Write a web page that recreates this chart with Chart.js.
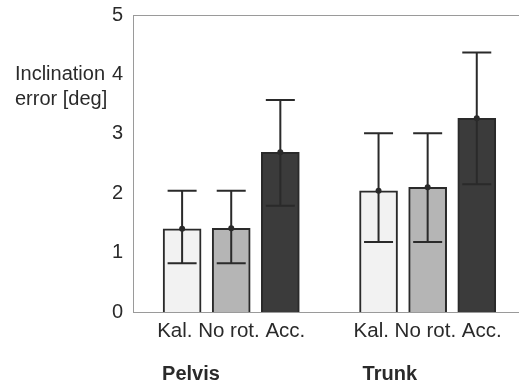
<!DOCTYPE html>
<html>
<head>
<meta charset="utf-8">
<script src="https://cdn.jsdelivr.net/npm/chart.js@4"></script>
<style>
  html, body { margin: 0; padding: 0; background: #fff; overflow: hidden; }
  #wrap { width: 519px; height: 383px; }
</style>
</head>
<body>
<div id="wrap"><canvas id="chart" width="519" height="383"></canvas></div>
<script>
// Bar labels and groups
const conditions = ['Kal.', 'No rot.', 'Acc.'];
const slots = [1, 2, 3, 5, 6, 7];
const groups = ['Pelvis', 'Trunk'];
const groupCenters = [2, 6];
const groupSlots = [1.18, 5.23];

// Mean inclination error and error bar limits [deg]
const meanError = [1.40, 1.41, 2.69, 2.04, 2.10, 3.26];
const errLow = [0.82, 0.82, 1.79, 1.18, 1.18, 2.15];
const errHigh = [2.04, 2.04, 3.57, 3.01, 3.01, 4.37];

const fills = ['#f2f2f2', '#b5b5b5', '#3b3b3b', '#f2f2f2', '#b5b5b5', '#3b3b3b'];
const yTitle = ['Inclination', 'error [deg]'];

const FONT = 'Liberation Sans, Arial, sans-serif';
const INK = '#2a2a2a';
const AXIS = '#9a9a9a';

// Error bars + frame + horizontal y title
const extras = {
    id: 'extras',
    afterDatasetsDraw(chart) {
        const { ctx, chartArea, scales } = chart;
        const x = scales.x, y = scales.y;
        ctx.save();
        ctx.strokeStyle = INK;
        ctx.fillStyle = INK;
        ctx.lineWidth = 2;
        slots.forEach((s, i) => {
            const px = x.getPixelForValue(s);
            const top = y.getPixelForValue(errHigh[i]);
            const bot = y.getPixelForValue(errLow[i]);
            ctx.beginPath();
            ctx.moveTo(px, top); ctx.lineTo(px, bot);
            ctx.moveTo(px - 14.5, top); ctx.lineTo(px + 14.5, top);
            ctx.moveTo(px - 14.5, bot); ctx.lineTo(px + 14.5, bot);
            ctx.stroke();
            ctx.beginPath();
            ctx.arc(px, y.getPixelForValue(meanError[i]), 3, 0, Math.PI * 2);
            ctx.fill();
        });
        // top frame line
        ctx.strokeStyle = AXIS;
        ctx.lineWidth = 1;
        ctx.beginPath();
        ctx.moveTo(chartArea.left, chartArea.top + 0.5);
        ctx.lineTo(chartArea.right, chartArea.top + 0.5);
        ctx.stroke();
        // y title, horizontal
        ctx.fillStyle = INK;
        ctx.font = '20px ' + FONT;
        ctx.textAlign = 'left';
        ctx.textBaseline = 'middle';
        const ty = y.getPixelForValue(4);
        ctx.fillText(yTitle[0], 15, ty);
        ctx.fillText(yTitle[1], 15, ty + 25);
        ctx.restore();
    }
};

new Chart(document.getElementById('chart'), {
    type: 'bar',
    data: {
        datasets: [{
            data: slots.map((s, i) => ({ x: s, y: meanError[i] })),
            backgroundColor: fills,
            borderColor: INK,
            borderWidth: 2,
            barThickness: 38
        }]
    },
    options: {
        responsive: false,
        animation: false,
        layout: { padding: { top: 15, right: 0, bottom: 0, left: 0 } },
        plugins: { legend: { display: false }, tooltip: { enabled: false } },
        scales: {
            x: {
                type: 'linear',
                position: 'bottom',
                weight: 0,
                offset: false,
                min: 0,
                max: 7.86,
                grid: { display: false, drawTicks: false, offset: false },
                border: { display: true, color: AXIS, width: 1 },
                afterBuildTicks: (axis) => { axis.ticks = groupCenters.map(v => ({ value: v })); },
                afterFit: (axis) => { axis.height = 36; axis.paddingLeft = 0; axis.paddingRight = 0; },
                ticks: {
                    autoSkip: false,
                    maxRotation: 0,
                    padding: 7,
                    color: INK,
                    font: { family: FONT, size: 20.5 },
                    callback: () => conditions.join(' ')
                }
            },
            x2: {
                type: 'linear',
                position: 'bottom',
                weight: 1,
                offset: false,
                min: 0,
                max: 7.86,
                grid: { display: false, drawTicks: false, offset: false },
                border: { display: false },
                afterBuildTicks: (axis) => { axis.ticks = groupSlots.map(v => ({ value: v })); },
                afterFit: (axis) => { axis.height = 35; axis.paddingLeft = 0; axis.paddingRight = 0; },
                ticks: {
                    autoSkip: false,
                    maxRotation: 0,
                    padding: 14,
                    color: INK,
                    font: { family: FONT, size: 20, weight: 'bold' },
                    callback: (v) => groups[groupSlots.indexOf(v)]
                }
            },
            y: {
                min: 0,
                max: 5,
                grid: { display: false, drawTicks: false },
                border: { display: true, color: AXIS, width: 1 },
                afterFit: (axis) => { axis.width = 133; axis.paddingTop = 0; axis.paddingBottom = 0; },
                ticks: {
                    stepSize: 1,
                    padding: 10,
                    color: INK,
                    font: { family: FONT, size: 20 }
                }
            }
        }
    },
    plugins: [extras]
});
</script>
</body>
</html>
